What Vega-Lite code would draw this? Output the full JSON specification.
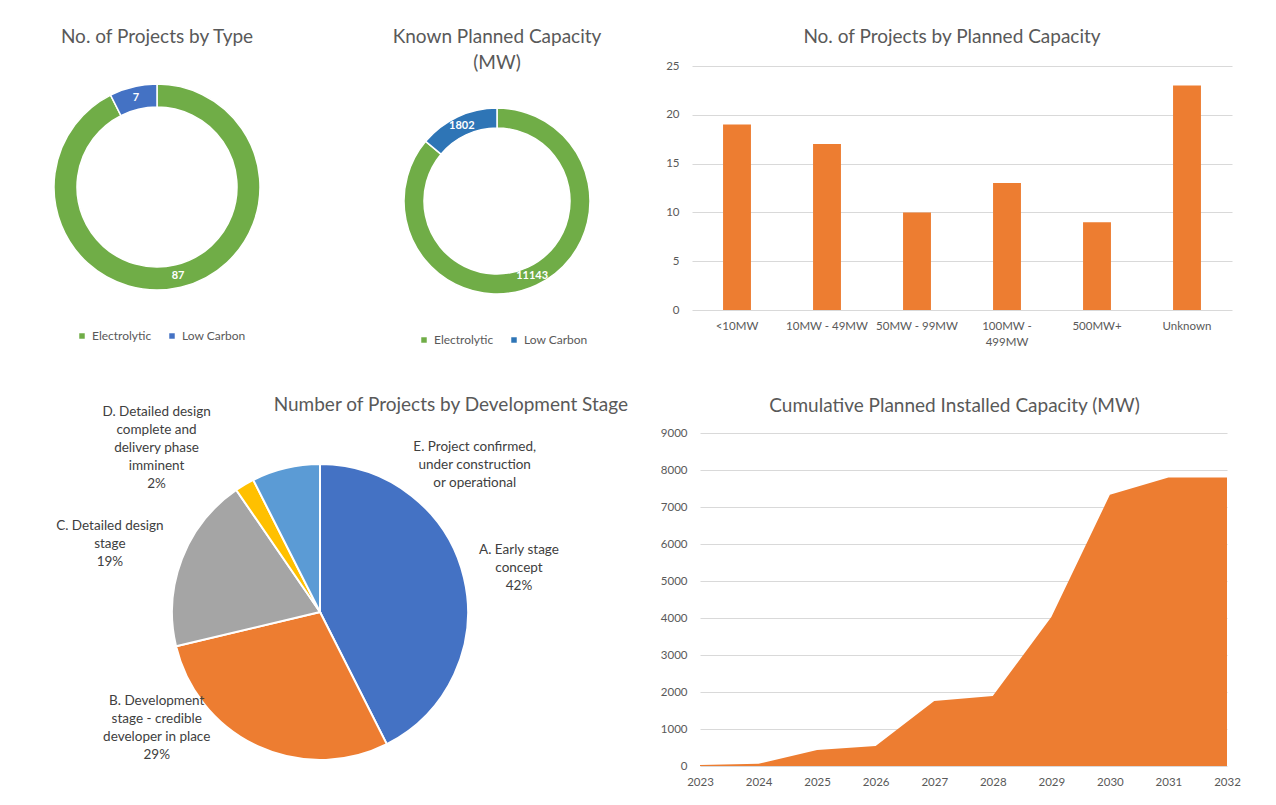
{
  "$schema": "https://vega.github.io/schema/vega-lite/v6.json",
  "background": "white",
  "padding": {"left": 12, "top": 28, "right": 0, "bottom": 0},
  "config": {
    "font": "Lato",
    "view": {"stroke": null},
    "title": {"fontSize": 19, "fontWeight": "normal", "color": "#595959", "font": "Lato", "lineHeight": 26},
    "axis": {"labelFont": "Lato", "labelColor": "#595959", "labelFontSize": 11.5, "domain": false, "ticks": false, "gridColor": "#D9D9D9", "labelFlush": false, "labelOverlap": false},
    "legend": {"labelFont": "Lato", "labelFontSize": 12, "labelColor": "#595959", "symbolType": "square", "symbolSize": 30, "symbolStrokeWidth": 0, "columnPadding": 14, "labelOffset": 4}
  },
  "datasets": {
    "types": [
      {"type": "Electrolytic", "projects": 87},
      {"type": "Low Carbon", "projects": 7}
    ],
    "capacity": [
      {"type": "Electrolytic", "mw": 11143},
      {"type": "Low Carbon", "mw": 1802}
    ],
    "bands": [
      {"band": "<10MW", "projects": 19},
      {"band": "10MW - 49MW", "projects": 17},
      {"band": "50MW - 99MW", "projects": 10},
      {"band": "100MW - 499MW", "projects": 13},
      {"band": "500MW+", "projects": 9},
      {"band": "Unknown", "projects": 23}
    ],
    "stages": [
      {"stage": "A", "projects": 40, "label": "A. Early stage\nconcept\n42%"},
      {"stage": "B", "projects": 27, "label": "B. Development\nstage - credible\ndeveloper in place\n29%"},
      {"stage": "C", "projects": 18, "label": "C. Detailed design\nstage\n19%"},
      {"stage": "D", "projects": 2, "label": "D. Detailed design\ncomplete and\ndelivery phase\nimminent\n2%"},
      {"stage": "E", "projects": 7, "label": "E. Project confirmed,\nunder construction\nor operational"}
    ],
    "cumulative": [
      {"year": 2023, "mw": 30},
      {"year": 2024, "mw": 60},
      {"year": 2025, "mw": 430},
      {"year": 2026, "mw": 540},
      {"year": 2027, "mw": 1755},
      {"year": 2028, "mw": 1890},
      {"year": 2029, "mw": 4030},
      {"year": 2030, "mw": 7330},
      {"year": 2031, "mw": 7800},
      {"year": 2032, "mw": 7800}
    ]
  },
  "spacing": 40,
  "vconcat": [
    {
      "bounds": "flush",
      "spacing": 55,
      "resolve": {"scale": {"color": "independent", "theta": "independent"}},
      "hconcat": [
        {
          "width": 290, "height": 242,
          "title": {"text": "No. of Projects by Type", "frame": "group", "offset": 19},
          "data": {"name": "types"},
          "encoding": {
            "theta": {"field": "projects", "type": "quantitative", "stack": true},
            "order": {"field": "type", "sort": "ascending"}
          },
          "layer": [
            {
              "mark": {"type": "arc", "innerRadius": 80, "outerRadius": 103, "stroke": "white", "strokeWidth": 1.5},
              "encoding": {
                "color": {"field": "type", "type": "nominal",
                  "scale": {"domain": ["Electrolytic", "Low Carbon"], "range": ["#70AD47", "#4472C4"]},
                  "legend": {"orient": "none", "legendX": 64, "legendY": 264, "direction": "horizontal", "title": null}}
              }
            },
            {
              "mark": {"type": "text", "radius": 91, "fill": "white", "fontWeight": "bold", "fontSize": 11},
              "encoding": {"text": {"field": "projects", "type": "quantitative"}}
            }
          ]
        },
        {
          "width": 280, "height": 270,
          "title": {"text": ["Known Planned Capacity", "(MW)"], "frame": "group", "offset": -7},
          "data": {"name": "capacity"},
          "encoding": {
            "theta": {"field": "mw", "type": "quantitative", "stack": true},
            "order": {"field": "type", "sort": "ascending"}
          },
          "layer": [
            {
              "mark": {"type": "arc", "innerRadius": 73, "outerRadius": 93, "stroke": "white", "strokeWidth": 1.5},
              "encoding": {
                "color": {"field": "type", "type": "nominal",
                  "scale": {"domain": ["Electrolytic", "Low Carbon"], "range": ["#70AD47", "#2E75B6"]},
                  "legend": {"orient": "none", "legendX": 61, "legendY": 268, "direction": "horizontal", "title": null}}
              }
            },
            {
              "mark": {"type": "text", "radius": 83, "fill": "white", "fontWeight": "bold", "fontSize": 11},
              "encoding": {"text": {"field": "mw", "type": "quantitative"}}
            }
          ]
        },
        {
          "width": 540, "height": 244,
          "title": {"text": "No. of Projects by Planned Capacity", "frame": "group", "offset": 13, "dx": -10},
          "data": {"name": "bands"},
          "mark": {"type": "bar", "color": "#ED7D31"},
          "encoding": {
            "x": {"field": "band", "type": "nominal", "sort": null, "title": null,
              "scale": {"paddingInner": 0.69, "paddingOuter": 0.345},
              "axis": {"labelAngle": 0, "labelPadding": 10, "labelLineHeight": 16,
                "labelExpr": "datum.label == '100MW - 499MW' ? ['100MW -', '499MW'] : datum.label"}},
            "y": {"field": "projects", "type": "quantitative", "title": null,
              "scale": {"domain": [0, 25], "nice": false},
              "axis": {"values": [0, 5, 10, 15, 20, 25], "labelPadding": 13, "grid": true}}
          }
        }
      ]
    },
    {
      "bounds": "flush",
      "spacing": 72,
      "hconcat": [
        {
          "width": 616, "height": 358,
          "title": {"text": "Number of Projects by Development Stage", "frame": "group", "anchor": "end", "offset": -27},
          "data": {"name": "stages"},
          "encoding": {
            "theta": {"field": "projects", "type": "quantitative", "stack": true},
            "order": {"field": "stage", "sort": "ascending"}
          },
          "layer": [
            {
              "mark": {"type": "arc", "outerRadius": 148, "stroke": "white", "strokeWidth": 2},
              "encoding": {
                "color": {"field": "stage", "type": "nominal", "legend": null,
                  "scale": {"domain": ["A", "B", "C", "D", "E"], "range": ["#4472C4", "#ED7D31", "#A5A5A5", "#FFC000", "#5B9BD5"]}}
              }
            },
            {
              "mark": {"type": "text", "radius": 148, "dx": 55, "dy": -28, "fontSize": 13.5, "fill": "#404040", "lineBreak": "\n", "lineHeight": 18, "baseline": "middle"},
              "encoding": {"text": {"condition": {"test": "datum.stage == 'A'", "field": "label"}, "value": ""}}
            },
            {
              "mark": {"type": "text", "radius": 148, "dx": -101, "dy": -45, "fontSize": 13.5, "fill": "#404040", "lineBreak": "\n", "lineHeight": 18, "baseline": "middle"},
              "encoding": {"text": {"condition": {"test": "datum.stage == 'B'", "field": "label"}, "value": ""}}
            },
            {
              "mark": {"type": "text", "radius": 148, "dx": -72, "dy": -33, "fontSize": 13.5, "fill": "#404040", "lineBreak": "\n", "lineHeight": 18, "baseline": "middle"},
              "encoding": {"text": {"condition": {"test": "datum.stage == 'C'", "field": "label"}, "value": ""}}
            },
            {
              "mark": {"type": "text", "radius": 148, "dx": -88, "dy": -73, "fontSize": 13.5, "fill": "#404040", "lineBreak": "\n", "lineHeight": 18, "baseline": "middle"},
              "encoding": {"text": {"condition": {"test": "datum.stage == 'D'", "field": "label"}, "value": ""}}
            },
            {
              "mark": {"type": "text", "radius": 148, "dx": 189, "dy": -21, "fontSize": 13.5, "fill": "#404040", "lineBreak": "\n", "lineHeight": 18, "baseline": "middle"},
              "encoding": {"text": {"condition": {"test": "datum.stage == 'E'", "field": "label"}, "value": ""}}
            }
          ]
        },
        {
          "width": 527, "height": 333,
          "title": {"text": "Cumulative Planned Installed Capacity (MW)", "frame": "group", "offset": 11, "dx": -9},
          "data": {"name": "cumulative"},
          "mark": {"type": "area", "color": "#ED7D31", "opacity": 1},
          "encoding": {
            "x": {"field": "year", "type": "quantitative", "title": null,
              "scale": {"domain": [2023, 2032], "nice": false, "zero": false},
              "axis": {"values": [2023, 2024, 2025, 2026, 2027, 2028, 2029, 2030, 2031, 2032], "format": "d", "grid": false, "labelPadding": 10}},
            "y": {"field": "mw", "type": "quantitative", "title": null,
              "scale": {"domain": [0, 9000], "nice": false},
              "axis": {"values": [0, 1000, 2000, 3000, 4000, 5000, 6000, 7000, 8000, 9000], "format": "d", "grid": true, "labelPadding": 13}}
          }
        }
      ]
    }
  ]
}
